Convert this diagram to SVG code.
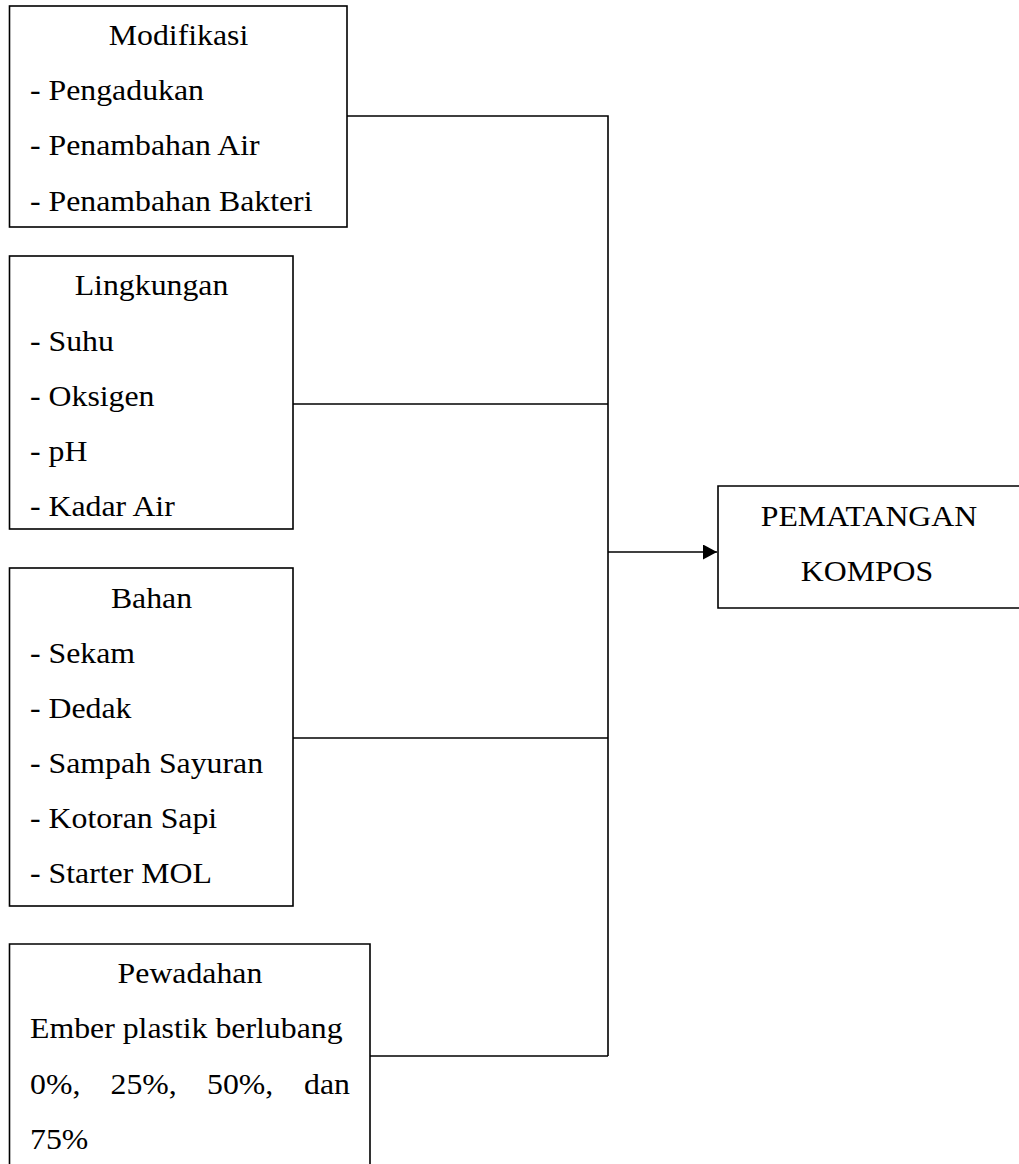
<svg xmlns="http://www.w3.org/2000/svg" width="1019" height="1164" viewBox="0 0 1019 1164">
<style>
  .box{fill:none;stroke:#000;stroke-width:1.6}
  .conn{fill:none;stroke:#000;stroke-width:1.6}
  text{font-family:"Liberation Serif","Times New Roman",serif;font-size:30px;fill:#000}
  .c{text-anchor:middle}
</style>
<defs>
  <marker id="arrow" markerUnits="userSpaceOnUse" markerWidth="15" markerHeight="16" refX="14" refY="7.5" orient="auto">
    <path d="M0,0 L14,7.5 L0,15 z" fill="#000"/>
  </marker>
</defs>
<rect width="1019" height="1164" fill="#fff"/>
<g id="connectors">
  <path class="conn" d="M347,116 H608 V1056"/>
  <path class="conn" d="M293,404 H608"/>
  <path class="conn" d="M293,738 H608"/>
  <path class="conn" d="M370,1056 H608"/>
  <path class="conn" d="M608,552 H717" marker-end="url(#arrow)"/>
</g>
<g id="modifikasi">
  <rect class="box" x="9.5" y="6" width="337.5" height="221"/>
  <text class="c" transform="translate(178.5,45) scale(1.06,1)">Modifikasi</text>
  <text transform="translate(30,100) scale(1.06,1)">- Pengadukan</text>
  <text transform="translate(30,155) scale(1.06,1)">- Penambahan Air</text>
  <text transform="translate(30,211) scale(1.06,1)">- Penambahan Bakteri</text>
</g>
<g id="lingkungan">
  <rect class="box" x="9.5" y="256" width="283.5" height="273"/>
  <text class="c" transform="translate(151.5,295) scale(1.06,1)">Lingkungan</text>
  <text transform="translate(30,351) scale(1.06,1)">- Suhu</text>
  <text transform="translate(30,406) scale(1.06,1)">- Oksigen</text>
  <text transform="translate(30,461) scale(1.06,1)">- pH</text>
  <text transform="translate(30,516) scale(1.06,1)">- Kadar Air</text>
</g>
<g id="bahan">
  <rect class="box" x="9.5" y="568" width="283.5" height="338"/>
  <text class="c" transform="translate(151.5,608) scale(1.06,1)">Bahan</text>
  <text transform="translate(30,663) scale(1.06,1)">- Sekam</text>
  <text transform="translate(30,718) scale(1.06,1)">- Dedak</text>
  <text transform="translate(30,773) scale(1.06,1)">- Sampah Sayuran</text>
  <text transform="translate(30,828) scale(1.06,1)">- Kotoran Sapi</text>
  <text transform="translate(30,883) scale(1.06,1)">- Starter MOL</text>
</g>
<g id="pewadahan">
  <path class="box" d="M9.5,1164 V944 H370 V1164"/>
  <text class="c" transform="translate(190,983) scale(1.06,1)">Pewadahan</text>
  <text transform="translate(30,1038) scale(1.06,1)">Ember plastik berlubang</text>
  <text transform="translate(30,1094) scale(1.06,1)"><tspan x="0">0%,</tspan><tspan x="76">25%,</tspan><tspan x="167">50%,</tspan><tspan x="258.5">dan</tspan></text>
  <text transform="translate(30,1149) scale(1.06,1)">75%</text>
</g>
<g id="pematangan">
  <path class="box" d="M1020,486 H718 V608 H1020"/>
  <text class="c" transform="translate(869,526) scale(1.06,1)">PEMATANGAN</text>
  <text class="c" transform="translate(867,581) scale(1.06,1)">KOMPOS</text>
</g>
</svg>
